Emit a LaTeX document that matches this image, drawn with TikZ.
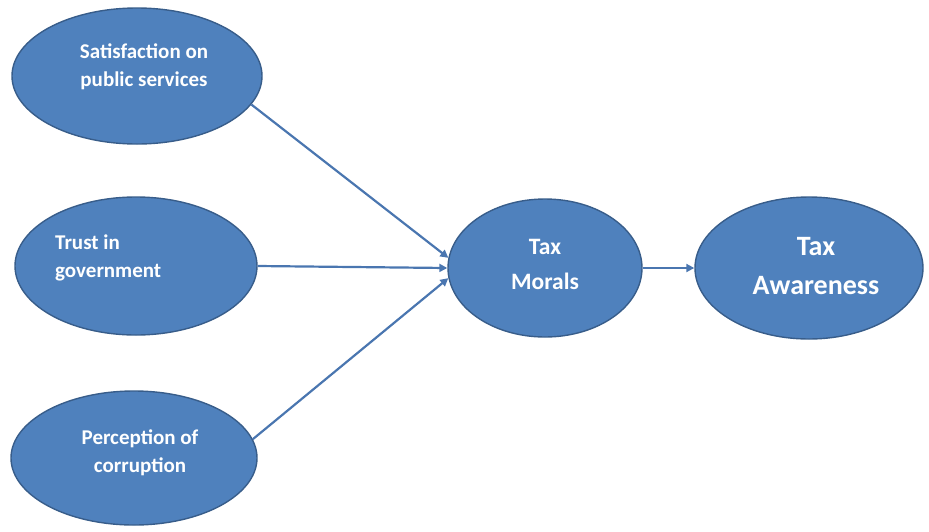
\documentclass[tikz,border=0pt]{standalone}
\usepackage{fontspec}
\setmainfont{Carlito}
\usetikzlibrary{shapes.geometric,arrows.meta}
\definecolor{ofill}{RGB}{79,129,189}
\definecolor{oline}{RGB}{56,93,138}
\definecolor{arr}{RGB}{74,118,176}
\tikzset{
  bub/.style={ellipse,draw=oline,line width=1.4pt,fill=ofill,inner sep=0pt},
  lab/.style={text=white,font=\bfseries\fontsize{21}{28}\selectfont,align=center,inner sep=0pt},
  conn/.style={draw=arr,line width=2.2pt,-{Triangle[length=8pt,width=8pt]}}
}
\begin{document}
\begin{tikzpicture}[x=1pt,y=-1pt]
\useasboundingbox (0,0) rectangle (929,531);
\node[bub,minimum width=250pt,minimum height=136pt] (s1) at (137,76) {};
\node[bub,minimum width=242pt,minimum height=138pt] (s2) at (136,266) {};
\node[bub,minimum width=246pt,minimum height=134pt] (s3) at (134,458) {};
\node[bub,minimum width=194pt,minimum height=138pt] (tm) at (545,268) {};
\node[bub,minimum width=228pt,minimum height=142pt] (ta) at (809,268) {};
\node[lab] (l1) at (144,67) {Satisfaction on\\public services};
\node[lab,align=left,anchor=west] (l2) at (55,258) {Trust in\\government};
\node[lab] (l3) at (140,453) {Perception of\\corruption};
\node[lab,font=\bfseries\fontsize{23.5}{35}\selectfont] (l4) at (545,264) {Tax\\Morals};
\node[lab,font=\bfseries\fontsize{28}{39}\selectfont] (l5) at (816,266) {Tax\\Awareness};
\draw[conn] (s1.-14) -- (tm.174);
\draw[conn] (s2.east) -- (tm.west);
\draw[conn] (s3.9) -- (tm.186);
\draw[conn] (tm.east) -- (ta.west);
\end{tikzpicture}
\end{document}
